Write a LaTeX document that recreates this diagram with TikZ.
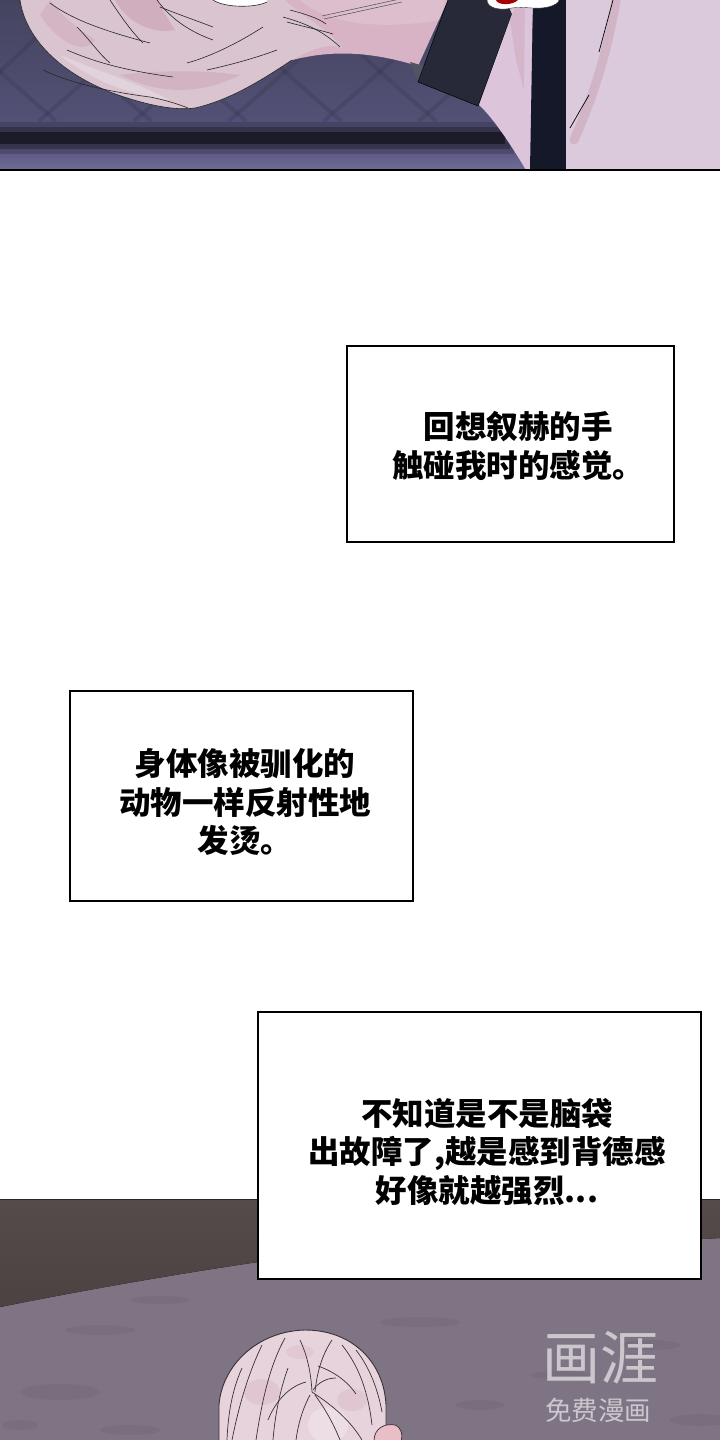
\documentclass[tikz,border=0pt]{standalone}
\usepackage{fontspec}
\newfontfamily\cjk{Noto Sans CJK SC}
\definecolor{bgA}{HTML}{45445F}
\definecolor{bgB}{HTML}{55537A}
\definecolor{bgC}{HTML}{716C98}
\definecolor{bandc}{HTML}{15141F}
\definecolor{fencec}{HTML}{23222F}
\definecolor{hairA}{HTML}{D9C4D0}
\definecolor{hairP}{HTML}{C89AAE}
\definecolor{skinA}{HTML}{D7B3C5}
\definecolor{collarc}{HTML}{272939}
\definecolor{chestc}{HTML}{DCC5DA}
\definecolor{strapc}{HTML}{141829}
\definecolor{rightc}{HTML}{DACADB}
\definecolor{groundc}{HTML}{7F7484}
\definecolor{blotc}{HTML}{685D6C}
\definecolor{brownc}{HTML}{4B4241}
\definecolor{headc}{HTML}{E6D3DC}
\definecolor{headp}{HTML}{D3A8BA}
\definecolor{linec}{HTML}{3A2F36}
\tikzset{
  txtbox/.style={draw=black, line width=1.6pt, fill=white, rectangle, inner sep=0pt},
  txt/.style={align=center, inner sep=0pt, font=\cjk\bfseries\fontsize{31.5}{38.5}\selectfont},
  strand/.style={draw=black!85, line width=0.6pt},
  hstrand/.style={draw=linec, line width=0.7pt},
  fence/.style={draw=fencec, line width=4pt, line cap=round},
  wm/.style={text=white, opacity=0.6, inner sep=0pt}
}
\begin{document}
\begin{tikzpicture}[x=1pt,y=-1pt]
\useasboundingbox (0,0) rectangle (720,1440);
\fill[white] (0,0) rectangle (720,1440);

% ---------------- top panel ----------------
\begin{scope}
\clip (0,0) rectangle (720,170);
\fill[top color=bgA, bottom color=bgB] (0,0) rectangle (720,146);
\fill[top color=bgB, bottom color=bgC] (0,146) rectangle (720,170);
\begin{scope}[opacity=0.16]
\foreach \i in {-3,...,8} {
  \draw[fence] (\i*95,-20) .. controls (\i*95+40,20) and (\i*95+80,60) .. (\i*95+150,120);
  \draw[fence] (\i*95,-20) .. controls (\i*95-40,20) and (\i*95-80,60) .. (\i*95-150,120);
}
\end{scope}
\fill[bandc, opacity=0.2] (0,122) rectangle (514,154);
\fill[bandc, opacity=0.35] (0,127) rectangle (510,149);
\fill[bandc, opacity=0.75] (0,132) rectangle (505,144);
% skin
\fill[skinA] (230,0) -- (230,72) -- (285,62) .. controls (320,52) and (360,48) .. (418,66) -- (448,0) -- cycle;
\fill[white, opacity=0.15] (300,0) .. controls (330,25) and (380,30) .. (440,20) -- (445,0) -- cycle;
% double thin line (top)
\draw[black!70, line width=0.5pt] (322,16) -- (400,-1);
\draw[black!70, line width=0.5pt] (324,19) -- (402,2);
% hair
\fill[hairA] (20,0) .. controls (25,35) and (55,70) .. (110,92) .. controls (145,105) and (175,111) .. (195,108) .. controls (230,100) and (262,80) .. (292,60) .. controls (310,50) and (330,42) .. (342,48) .. controls (330,30) and (300,15) .. (285,0) -- cycle;
\fill[hairP, opacity=0.5] (115,0) .. controls (125,20) and (150,35) .. (175,30) .. controls (165,15) and (160,5) .. (158,0) -- cycle;
\fill[hairP, opacity=0.4] (120,75) .. controls (160,95) and (200,95) .. (240,75) .. controls (205,70) and (160,70) .. cycle;
\fill[hairP, opacity=0.35] (40,15) .. controls (60,45) and (85,55) .. (95,40) .. controls (80,30) and (60,15) .. (50,0) -- cycle;
\fill[white, opacity=0.25] (60,55) .. controls (90,80) and (130,95) .. (170,100) .. controls (130,80) and (95,70) .. cycle;
\fill[white] (213,0) .. controls (225,8) and (255,8) .. (267,2) -- (267,0) -- cycle;
\draw[strand] (213,0) .. controls (225,8) and (255,8) .. (267,2);
\draw[strand] (20,0) .. controls (25,35) and (55,70) .. (110,92) .. controls (145,105) and (175,111) .. (195,108);
\draw[strand] (50,3) .. controls (70,18) and (100,30) .. (150,43);
\draw[strand] (77,27) .. controls (90,40) and (100,55) .. (110,63);
\draw[strand] (110,0) .. controls (120,15) and (130,30) .. (143,43);
\draw[strand] (67,50) .. controls (90,60) and (120,70) .. (173,77);
\draw[strand] (43,70) .. controls (70,83) and (110,92) .. (150,97) .. controls (165,100) and (178,104) .. (188,108);
\draw[strand] (157,0) .. controls (168,15) and (185,30) .. (213,40);
\draw[strand] (160,7) .. controls (180,15) and (200,22) .. (213,27);
\draw[strand] (187,63) .. controls (205,58) and (230,48) .. (263,27);
\draw[strand] (207,70) .. controls (225,66) and (250,60) .. (277,50);
\draw[strand] (195,108) .. controls (230,100) and (262,80) .. (292,60);
\draw[strand] (283,17) .. controls (300,22) and (320,28) .. (340,47);
\draw[strand] (287,22) .. controls (305,27) and (320,30) .. (333,34);
\draw[strand] (290,10) .. controls (305,14) and (318,18) .. (326,24);
% collar
\fill[collarc] (448,0) -- (418,82) -- (478,106) -- (512,14) -- (506,0) -- cycle;
\fill[collarc!80!white] (410,62) -- (418,82) -- (424,66) -- cycle;
\draw[black, line width=0.5pt] (448,0) -- (418,82) -- (478,106) -- (512,14);
% chest
\fill[chestc] (506,0) -- (533,0) -- (531,170) -- (526,170) .. controls (505,135) and (490,115) .. (479,105) -- (512,14) -- cycle;
\fill[hairP, opacity=0.35] (510,20) -- (518,0) -- (525,0) -- (524,90) -- (516,60) -- cycle;
% strap
\fill[strapc] (533,0) -- (566,0) -- (566,170) -- (530,170) -- cycle;
% right area
\fill[rightc] (566,0) rectangle (720,170);
\draw[hairP, line width=9pt, opacity=0.45, line cap=round] (617,-5) .. controls (607,55) and (592,100) .. (574,140);
\draw[black, line width=0.7pt] (613,0) -- (599,52);
\draw[black, line width=0.7pt] (589,95) -- (570,128);
% red item
\fill[white] (487,0) .. controls (487,8) and (500,11) .. (512,8) .. controls (525,6) and (535,10) .. (548,7) .. controls (556,5) and (559,2) .. (559,0) -- cycle;
\draw[black!80, line width=0.4pt] (487,0) .. controls (487,8) and (500,11) .. (512,8) .. controls (525,6) and (535,10) .. (548,7) .. controls (556,5) and (559,2) .. (559,0);
\fill[red!65!black] (496,0) .. controls (497,5) and (512,6) .. (518,0) -- cycle;
\end{scope}
\draw[black, line width=2pt] (0,170) -- (720,170);

% ---------------- bottom scene ----------------
\begin{scope}
\clip (0,1199) rectangle (720,1440);
\fill[groundc] (0,1199) rectangle (720,1440);
\foreach \x/\y/\a/\b in {100/1330/35/5, 420/1322/40/5, 650/1345/30/5, 60/1392/40/8, 480/1405/25/5, 700/1420/30/6, 160/1300/30/4, 560/1375/30/4, 20/1425/18/5, 130/1430/30/5} {
  \fill[blotc, opacity=0.22] (\x,\y) ellipse [x radius=\a, y radius=\b];
}
\fill[top color=brownc!95!white, bottom color=brownc] (0,1199) -- (720,1199) -- (720,1238) .. controls (600,1245) and (350,1252) .. (258,1262) .. controls (150,1278) and (60,1295) .. (0,1307) -- cycle;
\draw[black!85, line width=1.3pt] (0,1199) -- (720,1199);
% head
\fill[headc] (219,1441) -- (219,1405) .. controls (222,1365) and (258,1331) .. (305,1330) .. controls (352,1330) and (384,1362) .. (386,1405) -- (386,1441) -- cycle;
\fill[headp, opacity=0.3] (262,1392) ellipse [x radius=18, y radius=13];
\fill[headp, opacity=0.3] (352,1400) ellipse [x radius=15, y radius=11];
\fill[headp, opacity=0.25] (300,1352) ellipse [x radius=14, y radius=7];
\fill[white, opacity=0.25] (328,1425) ellipse [x radius=20, y radius=18];
\draw[hstrand, line width=0.9pt] (219,1441) -- (219,1405) .. controls (222,1365) and (258,1331) .. (305,1330) .. controls (352,1330) and (384,1362) .. (386,1405) -- (386,1441);
\draw[hstrand] (262,1345) .. controls (250,1370) and (240,1400) .. (232,1440);
\draw[hstrand] (285,1338) .. controls (270,1365) and (262,1400) .. (256,1440);
\draw[hstrand] (300,1340) .. controls (307,1355) and (311,1372) .. (312,1392);
\draw[hstrand] (332,1340) .. controls (322,1355) and (317,1372) .. (315,1392);
\draw[hstrand] (342,1345) .. controls (358,1365) and (368,1390) .. (372,1425);
\draw[hstrand] (312,1392) .. controls (332,1405) and (350,1420) .. (362,1440);
\draw[hstrand] (315,1395) .. controls (326,1410) and (334,1425) .. (340,1440);
\draw[hstrand] (310,1395) .. controls (302,1410) and (298,1425) .. (296,1440);
\draw[hstrand] (288,1368) .. controls (280,1390) and (275,1415) .. (273,1440);
\draw[hstrand] (356,1350) .. controls (370,1368) and (378,1390) .. (382,1412);
\draw[hstrand] (242,1368) .. controls (232,1390) and (228,1415) .. (227,1440);
\draw[hstrand] (318,1366) .. controls (335,1372) and (348,1382) .. (356,1394);
\draw[hstrand] (306,1382) .. controls (290,1386) and (276,1400) .. (268,1420);
\draw[hstrand] (313,1390) .. controls (318,1383) and (326,1378) .. (336,1378);
\fill[headc!90!red] (374,1441) .. controls (374,1428) and (385,1423) .. (395,1425) .. controls (402,1428) and (403,1436) .. (401,1441) -- cycle;
\draw[hstrand] (374,1441) .. controls (374,1428) and (385,1423) .. (395,1425) .. controls (402,1428) and (403,1436) .. (401,1441);
\end{scope}

% watermark
\node[wm, font=\cjk\fontsize{58}{58}\selectfont] (wm1) at (600,1358) {画涯};
\node[wm, font=\cjk\fontsize{26.5}{27}\selectfont] (wm2) at (598,1410) {免费漫画};

% ---------------- text boxes ----------------
\node[txtbox, minimum width=327pt, minimum height=196pt] (b1) at (510.5,444) {};
\node[txt] (t1) at (518,446) {回想叙赫的手\\触碰我时的感觉。};
\node[txtbox, minimum width=343pt, minimum height=210pt] (b2) at (241.5,796) {};
\node[txt] (t2) at (245,802) {身体像被驯化的\\动物一样反射性地\\发烫。};
\node[txtbox, minimum width=443pt, minimum height=267pt] (b3) at (479.5,1145.5) {};
\node[txt] (t3) at (487,1152) {不知道是不是脑袋\\出故障了,越是感到背德感\\好像就越强烈...};
\end{tikzpicture}
\end{document}
